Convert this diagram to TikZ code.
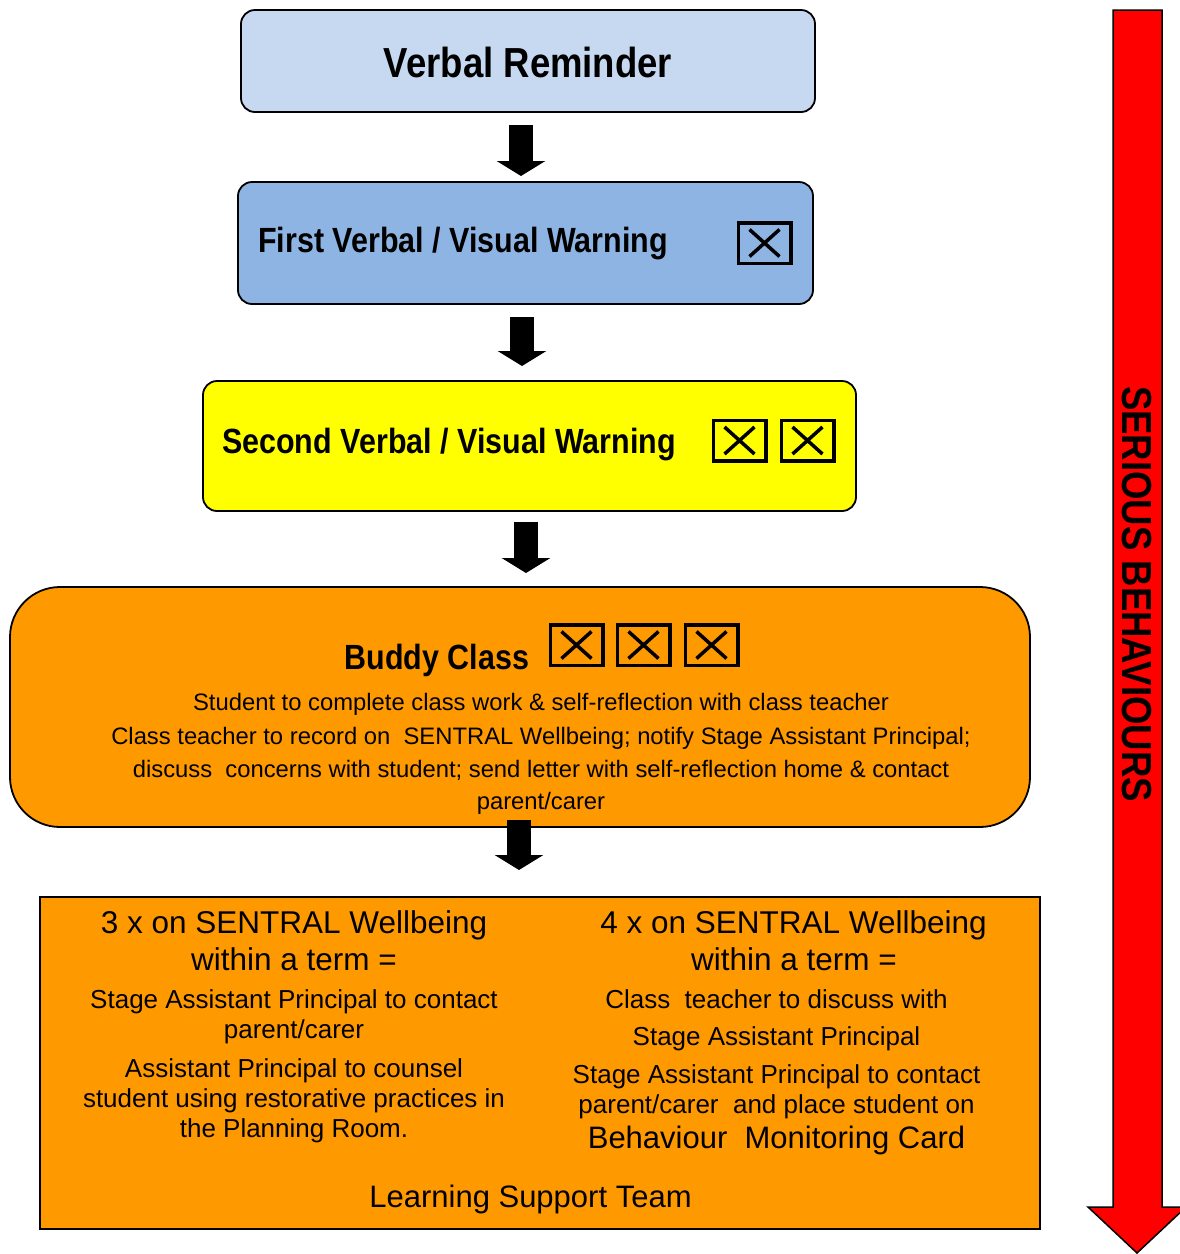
\documentclass[tikz,border=0pt]{standalone}
\usepackage{fontspec}
\setmainfont{Liberation Sans}
\usetikzlibrary{arrows.meta}
\definecolor{lblue}{HTML}{C6D9F1}
\definecolor{mblue}{HTML}{8EB4E3}
\definecolor{yel}{HTML}{FFFF00}
\definecolor{orng}{HTML}{FF9900}
\definecolor{rd}{HTML}{FF0000}
\newcommand{\cond}[1]{\scalebox{0.87}[1]{#1}}
\newcommand{\fs}[1]{\fontsize{#1}{#1}\selectfont}
\begin{document}
\begin{tikzpicture}[x=1pt,y=-1pt,
  stagebox/.style={draw=black, line width=1.8pt, rounded corners=14pt, inner sep=0pt},
  chk/.style={draw=black, line width=3.5pt, minimum width=52.5pt, minimum height=40.5pt, inner sep=0pt,
    path picture={\draw[line width=3.5pt]
      ([shift={(-15pt,-13.5pt)}]path picture bounding box.center) -- ([shift={(15pt,13.5pt)}]path picture bounding box.center)
      ([shift={(-15pt,13.5pt)}]path picture bounding box.center) -- ([shift={(15pt,-13.5pt)}]path picture bounding box.center);}},
  blockarr/.style={draw=black, line width=24pt, -{Triangle[width=48pt,length=15pt]}},
  txt/.style={inner sep=0pt, anchor=base},
  boldtxt/.style={inner sep=0pt, anchor=base, font=\bfseries},
]
\useasboundingbox (0,0) rectangle (1180,1254);

% stage boxes
\node[stagebox, fill=lblue, minimum width=574pt, minimum height=102pt] (vr) at (528,61) {};
\node[stagebox, fill=mblue, minimum width=575pt, minimum height=122pt] (fw) at (525.5,243) {};
\node[stagebox, fill=yel, minimum width=653pt, minimum height=130pt] (sw) at (529.5,446) {};
\node[stagebox, fill=orng, rounded corners=50pt, minimum width=1020pt, minimum height=240pt] (bc) at (520,707) {};
\node[draw=black, line width=1.8pt, fill=orng, inner sep=0pt, minimum width=1000pt, minimum height=332pt] (lst) at (540,1063) {};

% titles
\node[boldtxt] (vrt) at (528,77) {\fs{42}\cond{Verbal Reminder}};
\node[boldtxt, anchor=base west] (fwt) at (258,252) {\fs{35}\cond{First Verbal / Visual Warning}};
\node[boldtxt, anchor=base west] (swt) at (222,453) {\fs{35}\cond{Second Verbal / Visual Warning}};
\node[boldtxt] (bct) at (437,669) {\fs{35}\cond{Buddy Class}};

% check boxes
\node[chk] (c1) at (764.5,243) {};
\node[chk] (c2) at (739.5,440.5) {};
\node[chk] (c3) at (807.5,440.5) {};
\node[chk] (c4) at (576.5,645) {};
\node[chk] (c5) at (643.5,645) {};
\node[chk] (c6) at (711.5,645) {};

% buddy class text
\node[txt] (b1) at (541,710) {\fs{23.8}Student to complete class work \& self-reflection with class teacher};
\node[txt] (b2) at (541,744) {\fs{23.8}Class teacher to record on\ \ SENTRAL Wellbeing; notify Stage Assistant Principal;};
\node[txt] (b3) at (541,777) {\fs{23.8}discuss\ \ concerns with student; send letter with self-reflection home \& contact};
\node[txt] (b4) at (541,809) {\fs{23.8}parent/carer};

% left column
\node[txt] (l1) at (294,933) {\fs{31.5}3 x on SENTRAL Wellbeing};
\node[txt] (l2) at (294,970) {\fs{31.5}within a term =};
\node[txt] (l3) at (294,1008) {\fs{26}Stage Assistant Principal to contact};
\node[txt] (l4) at (294,1038) {\fs{26}parent/carer};
\node[txt] (l5) at (294,1077) {\fs{26}Assistant Principal to counsel};
\node[txt] (l6) at (294,1107) {\fs{26}student using restorative practices in};
\node[txt] (l7) at (294,1137) {\fs{26}the Planning Room.};

% right column
\node[txt] (r1) at (793.5,933) {\fs{31.5}4 x on SENTRAL Wellbeing};
\node[txt] (r2) at (794,970) {\fs{31.5}within a term =};
\node[txt] (r3) at (776.5,1008) {\fs{26}Class\ \ teacher to discuss with};
\node[txt] (r4) at (776.5,1045) {\fs{26}Stage Assistant Principal};
\node[txt] (r5) at (776.5,1083) {\fs{26}Stage Assistant Principal to contact};
\node[txt] (r6) at (776.5,1113) {\fs{26}parent/carer\ \ and place student on};
\node[txt] (r7) at (776.5,1148) {\fs{31}Behaviour\ \ Monitoring Card};
\node[txt] (lt) at (530.5,1207) {\fs{31}Learning Support Team};

% block arrows
\coordinate (a1t) at (521,125); \coordinate (a1b) at (521,176);
\coordinate (a2t) at (522,317); \coordinate (a2b) at (522,366);
\coordinate (a3t) at (526,522); \coordinate (a3b) at (526,573);
\coordinate (a4t) at (519,820); \coordinate (a4b) at (519,870);
\draw[blockarr] (a1t) -- (a1b);
\draw[blockarr] (a2t) -- (a2b);
\draw[blockarr] (a3t) -- (a3b);
\draw[blockarr] (a4t) -- (a4b);

% red arrow
\draw[draw=black, line width=1.5pt, fill=rd, line join=miter]
  (1113,10) -- (1162,10) -- (1162,1207) -- (1186,1207) -- (1137,1253) -- (1088,1207) -- (1113,1207) -- cycle;
\node[boldtxt, anchor=center, rotate=-90] (sb) at (1137,594) {\fs{42}\cond{SERIOUS BEHAVIOURS}};
\end{tikzpicture}
\end{document}
